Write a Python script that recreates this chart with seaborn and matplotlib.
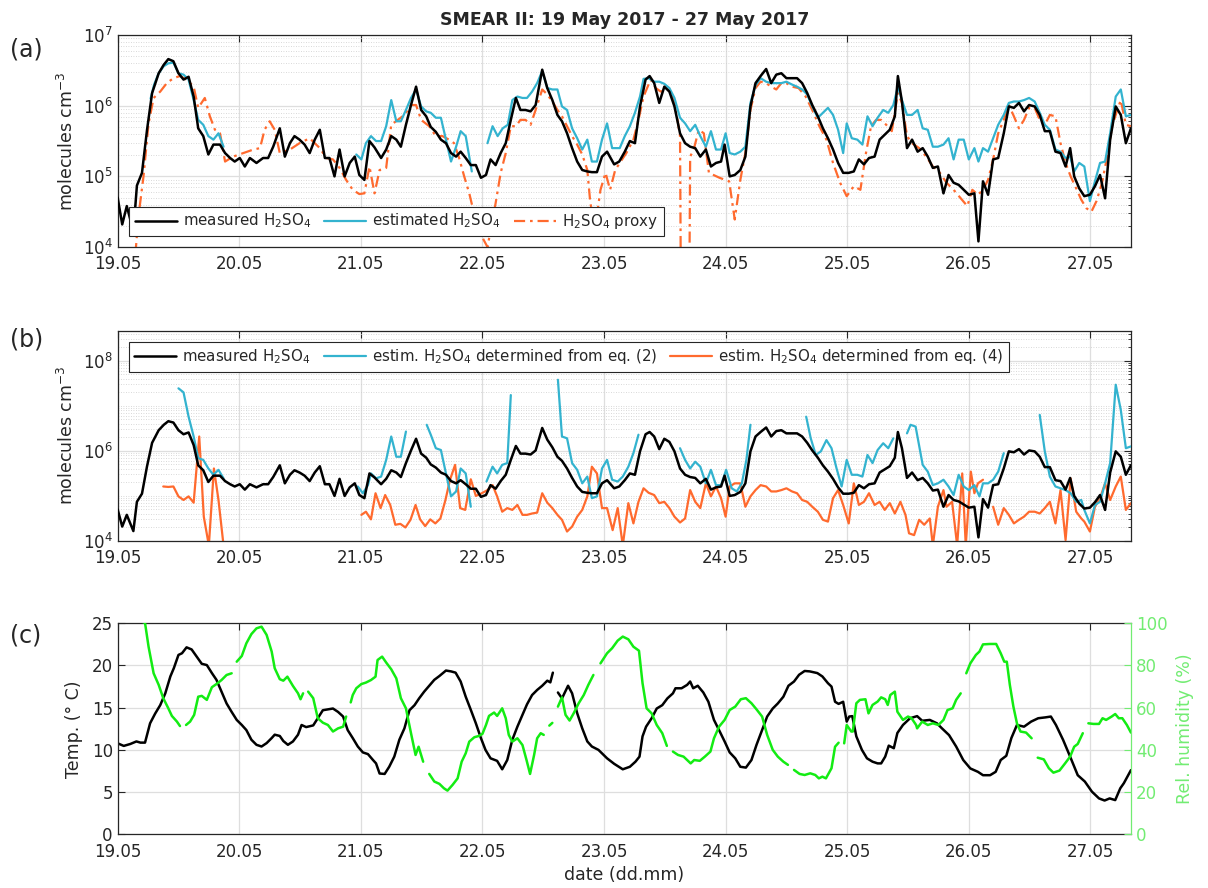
import numpy as np
import pandas as pd
import matplotlib
matplotlib.use("Agg")
import matplotlib.pyplot as plt
import seaborn as sns
from matplotlib.ticker import LogLocator, FixedLocator, NullFormatter, FuncFormatter, MultipleLocator
from matplotlib.lines import Line2D

# ---------------- data (hour since 19.05 00:00, value) ; None = gap ----------------
date_labels = ["19.05", "20.05", "21.05", "22.05", "23.05", "24.05", "25.05", "26.05", "27.05"]
title_text = "SMEAR II: 19 May 2017 - 27 May 2017"

# log10 of concentration (molecules cm^-3)
measured_log10 = [
    (0, 4.7), (0.9, 4.32), (1.8, 4.58), (3.1, 4.22), (3.8, 4.87), (4.8, 5.05), (5.8, 5.66), (6.8, 6.18),
    (8.1, 6.46), (9.1, 6.58), (10, 6.66), (11, 6.63), (12, 6.46), (13, 6.37), (14, 6.41), (15, 6.13),
    (15.9, 5.68), (16.9, 5.57), (17.9, 5.31), (18.9, 5.45), (20.2, 5.45), (21.2, 5.33), (22.2, 5.26),
    (23.1, 5.21), (24.1, 5.26), (25.1, 5.14), (26.1, 5.26), (27.4, 5.19), (28.7, 5.26), (29.7, 5.26),
    (30.7, 5.42), (32, 5.68), (33, 5.28), (34, 5.47), (34.9, 5.57), (35.9, 5.52), (36.9, 5.45),
    (37.9, 5.33), (38.9, 5.52), (39.9, 5.66), (40.9, 5.26), (41.8, 5.26), (42.8, 5.0), (43.8, 5.38),
    (44.8, 5.0), (45.8, 5.19), (46.8, 5.28), (47.7, 5.02), (48.7, 4.95), (49.7, 5.5), (50.7, 5.41),
    (52, 5.26), (53, 5.38), (54, 5.57), (55, 5.52), (55.9, 5.42), (56.9, 5.73), (57.9, 6.01),
    (58.9, 6.27), (59.9, 5.94), (60.9, 5.85), (61.8, 5.7), (62.8, 5.63), (63.8, 5.52), (64.8, 5.47),
    (65.8, 5.33), (66.8, 5.28), (67.7, 5.35), (68.7, 5.26), (69.7, 5.16), (70.7, 5.16), (71.7, 4.98),
    (72.7, 5.02), (73.6, 5.24), (74.6, 5.16), (75.6, 5.33), (76.6, 5.47), (77.6, 5.8), (78.6, 6.11),
    (79.5, 5.94), (80.5, 5.94), (81.5, 5.92), (82.5, 6.01), (83.8, 6.51), (84.8, 6.25), (85.8, 6.08),
    (86.8, 5.87), (87.7, 5.78), (88.7, 5.61), (89.7, 5.4), (90.7, 5.21), (91.7, 5.09), (92.7, 5.07),
    (93.6, 5.06), (94.6, 5.06), (95.6, 5.28), (96.6, 5.35), (98, 5.17), (99, 5.21), (100.1, 5.35),
    (101.1, 5.5), (102.1, 5.47), (103.1, 5.99), (104.2, 6.37), (105, 6.42), (105.9, 6.32), (106.9, 6.04),
    (107.9, 6.27), (108.9, 6.2), (109.9, 5.99), (111, 5.61), (112, 5.47), (113, 5.42), (114, 5.4),
    (115, 5.28), (116.1, 5.38), (117.1, 5.14), (118.1, 5.19), (119.1, 5.21), (119.8, 5.45), (120.8, 5.0),
    (121.8, 5.02), (122.9, 5.09), (123.9, 5.28), (124.9, 5.99), (125.9, 6.32), (126.9, 6.42), (128, 6.52),
    (129, 6.32), (130, 6.44), (131, 6.46), (132, 6.39), (133.1, 6.39), (134.1, 6.39), (135.1, 6.32),
    (136.1, 6.18), (137.1, 6.01), (138.2, 5.85), (139.2, 5.68), (140.2, 5.54), (141.2, 5.38), (142.2, 5.19),
    (143.2, 5.05), (144.3, 5.05), (145.3, 5.07), (146.3, 5.24), (147.3, 5.17), (148.3, 5.26), (149.4, 5.28),
    (150.4, 5.52), (151.4, 5.59), (152.4, 5.66), (153.4, 5.85), (154, 6.42), (154.8, 6.06), (155.8, 5.4),
    (156.8, 5.52), (157.9, 5.35), (158.9, 5.4), (159.9, 5.28), (160.9, 5.12), (161.9, 5.14), (163, 4.76),
    (164, 5.02), (165, 4.91), (166, 4.88), (167, 4.81), (168, 4.74), (169.1, 4.76), (169.9, 4.08),
    (170.8, 4.93), (171.8, 4.74), (172.8, 5.24), (173.8, 5.26), (174.9, 5.61), (175.9, 5.99), (176.9, 5.97),
    (177.9, 6.04), (178.9, 5.92), (179.9, 6.01), (181, 5.99), (182, 5.87), (183, 5.64), (184, 5.64),
    (185.1, 5.35), (186.1, 5.33), (187.1, 5.14), (188, 5.4), (188.8, 5.0), (189.8, 4.83), (190.8, 4.72),
    (191.9, 4.74), (192.9, 4.86), (193.9, 5.02), (194.9, 4.69), (195.9, 5.52), (197, 5.99), (198, 5.87),
    (199, 5.47), (200, 5.68),
]

estimated_log10 = [
    (6.5, 6.1), (7.2, 6.3), (8.1, 6.46), (9.1, 6.56), (10, 6.6), (11, 6.61), (12, 6.46), (13, 6.44),
    (14, 6.37), (15, 6.08), (15.9, 5.8), (16.9, 5.73), (17.9, 5.57), (18.9, 5.52), (19.9, 5.61),
    (20.9, 5.42), None,
    (47.1, 5.31), (48.1, 5.24), (49, 5.47), (50, 5.57), (51, 5.5), (52, 5.5), (53, 5.71), (54, 6.08),
    (55, 5.78), (55.9, 5.78), (56.9, 5.94), (57.9, 6.11), (58.9, 6.23), (59.9, 5.99), (60.9, 5.92),
    (61.8, 5.9), (62.8, 5.83), (63.8, 5.83), (64.8, 5.52), (65.8, 5.21), (66.8, 5.42), (67.7, 5.64),
    (68.7, 5.57), (69.9, 5.07), None,
    (73, 5.47), (74, 5.71), (75, 5.57), (76, 5.68), (77, 5.73), (77.9, 6.08), (78.9, 6.13), (79.9, 6.11),
    (80.8, 6.11), (81.8, 6.2), (82.8, 6.32), (83.8, 6.49), (84.8, 6.25), (85.8, 6.23), (86.8, 6.23),
    (87.7, 5.99), (88.7, 5.94), (89.7, 5.68), (90.7, 5.54), (91.7, 5.38), (92.7, 5.52), (93.6, 5.21),
    (94.6, 5.21), (95.6, 5.52), (96.6, 5.75), (97.6, 5.4), (99.1, 5.4), (100.1, 5.57), (101.1, 5.71),
    (102.1, 5.9), (103.1, 6.13), (103.8, 6.38), (104.8, 6.39), (105.9, 6.34), (106.9, 6.34), (107.9, 6.31),
    (108.9, 6.25), (109.9, 6.11), (111, 5.83), (112, 5.75), (113, 5.64), (114, 5.73), (115, 5.57),
    (116.1, 5.42), (117.1, 5.64), (118.1, 5.38), (119.1, 5.38), (120, 5.61), (120.8, 5.33), (121.8, 5.31),
    (122.9, 5.35), (123.9, 5.42), (124.9, 6.04), (125.9, 6.29), (126.9, 6.39), (128, 6.34), (129, 6.32),
    (130, 6.32), (131, 6.32), (132, 6.34), (133.1, 6.3), (134.1, 6.27), (135.1, 6.23), (136.1, 6.16),
    (137.1, 5.99), (138.2, 5.83), (139.2, 5.9), (140.2, 5.97), (141.2, 5.87), (142.2, 5.66), (143.2, 5.33),
    (143.9, 5.75), (144.9, 5.54), (146, 5.52), (147, 5.45), (148, 5.85), (149, 5.71), (150, 5.83),
    (151.1, 5.94), (152.1, 5.9), (153.1, 6.01), (154, 6.27), (154.8, 6.08), (155.8, 5.87), (156.8, 5.87),
    (157.9, 5.94), (158.9, 5.68), (159.9, 5.66), (160.9, 5.42), (161.9, 5.42), (163, 5.45), (164, 5.54),
    (165, 5.24), (166, 5.52), (167, 5.52), (168, 5.24), (169.1, 5.4), (169.9, 5.21), (170.8, 5.4),
    (171.8, 5.35), (172.8, 5.54), (173.8, 5.73), (174.9, 5.87), (175.9, 6.04), (176.9, 6.06), (177.9, 6.06),
    (178.9, 6.08), (179.9, 6.11), (181, 6.06), (182, 5.9), (183, 5.73), (184, 5.66), (185.1, 5.38),
    (186.1, 5.35), (187.1, 5.26), (188, 5.28), (188.8, 5.07), (189.8, 5.19), (190.8, 5.14), (191.9, 4.65),
    (192.9, 4.93), (193.9, 5.19), (194.9, 5.21), (195.9, 5.61), (197, 6.13), (198, 6.23), (199, 5.85),
    (200, 5.87),
]

proxy_log10 = [
    (3.5, 3.9), (4.1, 4.43), (5.1, 5.0), (6.1, 5.75), (7.1, 6.11), (8.4, 6.2), (9.7, 6.32), (11, 6.39),
    (12.3, 6.42), (13.6, 6.37), (15, 6.27), (15.9, 5.97), (17.2, 6.11), (18.2, 5.85), (19.2, 5.66),
    (20.2, 5.61), (21.2, 5.21), (22.8, 5.28), (24.8, 5.33), (26.8, 5.38), (28.1, 5.4), (29, 5.66),
    (30, 5.78), (31, 5.66), (32, 5.33), (34, 5.38), (35.9, 5.47), (37.9, 5.54), (39.9, 5.4), (41.2, 5.26),
    (42.5, 5.24), (43.8, 5.12), (45.1, 4.95), (46.4, 4.81), (47.7, 4.75), (48.7, 4.76), (49.7, 5.14),
    (50.7, 4.76), (51.7, 5.09), (53, 5.12), (54, 5.73), (55.3, 5.8), (56.6, 5.87), (57.9, 6.01),
    (58.9, 6.01), (59.9, 5.8), (61.5, 5.71), (62.8, 5.57), (64.1, 5.57), (65.4, 5.52), (66.4, 5.47),
    (67.4, 5.26), (68.4, 5.0), (69.4, 4.76), (70, 4.58), (71.5, 4.2), (73, 4.0), (74.6, 4.62),
    (75.6, 5.05), (76.6, 5.33), (77.6, 5.71), (78.6, 5.71), (79.5, 5.8), (80.5, 5.8), (81.5, 5.73),
    (82.5, 5.94), (83.8, 6.23), (84.8, 6.16), (85.8, 6.06), (86.8, 5.94), (87.7, 5.85), (88.7, 5.71),
    (89.7, 5.57), (90.7, 5.45), (91.7, 5.31), (92.7, 5.09), (93.3, 4.62), (94.3, 4.3), (95.3, 4.81),
    (96.3, 5.05), (97.2, 4.81), (98.2, 5.09), (99.1, 5.19), (100.4, 5.33), (101.8, 5.52), (102.8, 5.8),
    (103.8, 6.13), (105.2, 6.37), (106.2, 6.25), (107.2, 6.2), (108.6, 6.23), (109.6, 6.13), (110.5, 5.8),
    (111, 5.57), (111.2, 3.0), (112.8, 3.0), (113, 5.28), (113.7, 5.38), (114.7, 5.66), (115.7, 5.61),
    (116.7, 5.05), (118.8, 4.98), (120.7, 4.93), (121.8, 4.39), (122.9, 4.95), (123.9, 5.33), (124.9, 5.94),
    (125.9, 6.25), (126.9, 6.34), (128, 6.32), (129, 6.27), (130, 6.23), (131, 6.32), (132, 6.32),
    (133.1, 6.27), (134.4, 6.25), (135.8, 6.13), (137.1, 5.94), (138.5, 5.71), (139.9, 5.52), (141.2, 5.19),
    (142.6, 4.91), (143.9, 4.72), (145.3, 4.86), (146.6, 4.81), (147.7, 5.33), (148.7, 5.71), (149.7, 5.8),
    (150.7, 5.8), (151.7, 5.73), (152.8, 5.64), (154, 6.18), (154.8, 6.04), (155.8, 5.57), (156.8, 5.47),
    (158.2, 5.4), (159.6, 5.28), (160.9, 5.14), (162.3, 5.05), (163.6, 4.91), (165, 4.81), (166.4, 4.69),
    (167.7, 4.58), (168.7, 4.81), (169.8, 4.74), (170.8, 4.81), (171.8, 4.95), (172.8, 5.24), (173.8, 5.61),
    (174.9, 5.8), (175.9, 6.01), (176.9, 5.85), (177.9, 5.68), (178.9, 5.8), (179.9, 5.97), (181, 5.97),
    (182, 5.8), (183, 5.73), (184, 5.87), (185.1, 5.85), (186.1, 5.47), (187.1, 5.19), (188.1, 5.0),
    (189.2, 4.83), (190.2, 4.67), (191.2, 4.55), (192.2, 4.5), (193.2, 4.65), (194.3, 4.91), (195.3, 5.28),
    (196.3, 5.71), (197.3, 5.94), (198, 6.08), (199, 5.73), (200, 5.71),
]

eq2_log10 = [
    (12, 7.39), (13, 7.3), (14, 6.76), (15, 6.32), (15.9, 5.84), (16.9, 5.8), (17.9, 5.61), (18.9, 5.47),
    (19.9, 5.58), (20.9, 5.39), None,
    (47.4, 5.21), (48.4, 5.06), (49.4, 5.24), (50, 5.5), (51, 5.39), (52, 5.43), (53, 5.8), (54, 6.32),
    (55, 5.87), (55.9, 5.87), (56.9, 6.43), None,
    (61, 6.58), (61.8, 6.36), (62.8, 6.06), (63.8, 6.02), (64.8, 5.5), (65.8, 4.99), (66.8, 5.1),
    (67.7, 5.61), (68.7, 5.5), (69.7, 4.76), None,
    (72.8, 5.32), (74, 5.65), (74.9, 5.5), (75.9, 5.69), (76.9, 5.73), (77.6, 7.24), None,
    (86.9, 7.58), (87.7, 6.32), (88.7, 6.28), (89.7, 5.73), (90.7, 5.58), (91.7, 5.28), (92.7, 5.43),
    (93.6, 4.95), (94.6, 4.99), (95.6, 5.61), (96.6, 5.8), (97.6, 5.36), (98.7, 5.32), (99.7, 5.43),
    (100.8, 5.65), (101.8, 5.95), (102.8, 6.36), None,
    (111, 6.06), (112, 5.8), (113, 5.61), (114, 5.76), (115, 5.65), (116.1, 5.28), (117.1, 5.58),
    (118.1, 5.24), (119.1, 5.24), (120.1, 5.58), (121.2, 5.17), (122.2, 5.1), (123.2, 5.28), (124.1, 5.8),
    (124.9, 6.58), None,
    (135.9, 6.76), (136.8, 6.28), (137.8, 5.91), (138.8, 5.99), (139.9, 6.24), (140.9, 6.06), (141.9, 5.61),
    (142.9, 5.21), (143.9, 5.8), (144.9, 5.47), (146, 5.47), (147, 5.43), (148, 5.91), (149, 5.73),
    (150, 6.02), (151.1, 6.17), (152.1, 6.06), (153.1, 6.28), None,
    (155.8, 6.39), (156.5, 6.58), (157.5, 6.54), (158.9, 5.69), (159.9, 5.54), (160.9, 5.24), (161.9, 5.28),
    (163, 5.36), (164, 5.21), (165, 5.02), (166, 5.47), (167, 5.21), (168, 5.13), (169.1, 5.24),
    (170.1, 4.99), (170.8, 5.28), (171.8, 5.28), (172.8, 5.36), (173.8, 5.54), (174.9, 5.95), None,
    (182, 6.8), (183, 5.99), (184, 5.43), (185.1, 5.21), (186.1, 5.17), (187.1, 5.13), (188.1, 5.06),
    (189.2, 4.87), (190.2, 4.91), (190.8, 4.69), (191.9, 4.39), (192.9, 4.8), (193.9, 4.87), (194.9, 5.28),
    (195.9, 5.73), (197, 7.47), (198, 6.91), (199, 6.06), (200, 6.1),
]

eq4_log10 = [
    (9, 5.21), (10, 5.2), (11, 5.21), (12, 4.99), (13, 4.91), (14, 4.99), (15, 4.85), (16.1, 6.32),
    (17, 4.54), (18, 3.9), (19, 5.61), (19.9, 4.91), (20.9, 3.9), None,
    (48.1, 4.58), (49, 4.65), (50, 4.48), (50.9, 5.06), (51.9, 4.73), (52.8, 5.02), (53.8, 4.8),
    (54.8, 4.36), (55.8, 4.38), (56.8, 4.3), (57.8, 4.47), (58.8, 4.8), (59.7, 4.48), (60.7, 4.33),
    (61.7, 4.48), (62.7, 4.39), (63.7, 4.5), (64.7, 4.91), (65.6, 5.36), (66.6, 5.69), (67.6, 4.73),
    (68.6, 4.69), (69.7, 5.37), (70.7, 5.0), (71.7, 5.05), (73, 5.13), (74, 5.24), (74.9, 4.99),
    (75.9, 4.65), (76.9, 4.73), (77.9, 4.69), (78.9, 4.8), (79.9, 4.58), (80.8, 4.58), (81.8, 4.61),
    (82.8, 4.63), (83.8, 5.06), (84.8, 4.85), (85.8, 4.73), (86.8, 4.58), (87.7, 4.47), (88.7, 4.21),
    (89.7, 4.32), (90.7, 4.54), (91.7, 4.69), (92.7, 4.99), (93.6, 5.65), (94.6, 5.5), (95.6, 4.73),
    (96.6, 4.73), (97.7, 4.24), (98.7, 4.73), (99.7, 3.9), (100.8, 4.84), (101.8, 4.39), (102.8, 4.87),
    (103.8, 5.17), (104.8, 5.07), (105.9, 5.02), (106.9, 4.84), (107.9, 4.87), (108.9, 4.73), (109.9, 4.54),
    (111, 4.41), (112, 4.5), (113, 5.13), (114, 4.87), (115, 4.73), (116.1, 5.28), (117.1, 4.99),
    (118.1, 5.21), (119.1, 4.95), (120, 4.54), (120.8, 5.21), (121.8, 5.28), (122.9, 5.28), (123.9, 4.76),
    (124.9, 4.99), (125.9, 5.13), (126.9, 5.24), (128, 5.21), (129, 5.1), (130, 5.1), (131, 5.13),
    (132, 5.17), (133.1, 5.1), (134.1, 5.06), (135.1, 4.91), (136.1, 4.87), (137.1, 4.76), (138.2, 4.65),
    (139.2, 4.47), (140.2, 4.43), (141.2, 4.95), (142.2, 5.13), (143.2, 4.8), (144.3, 4.39), (145.3, 5.28),
    (146.3, 4.8), (147.3, 4.87), (148.3, 5.06), (149.4, 4.8), (150.4, 4.87), (151.4, 4.69), (152.4, 4.84),
    (153.4, 4.61), (154.5, 4.87), (155.5, 4.58), (156.2, 4.17), (157.2, 4.13), (158.2, 4.47), (159.2, 4.36),
    (160.3, 4.5), (160.9, 3.9), (161.9, 4.76), (163, 5.13), (163.6, 4.76), (164.7, 4.87), (165.7, 3.9),
    (166.7, 5.5), (167.4, 3.9), (168.4, 5.54), (169.1, 5.06), (169.8, 5.28), (170.8, 5.36), None,
    (172.8, 4.76), (173.8, 4.36), (174.9, 4.73), (175.9, 4.58), (176.9, 4.39), (177.9, 4.47), (178.9, 4.54),
    (179.9, 4.65), (181, 4.65), (182, 4.61), (183, 4.73), (184, 4.87), (185.1, 4.39), (186.1, 5.13),
    (187.1, 4.02), (188.1, 5.39), (189.2, 4.65), (190.2, 4.5), (190.8, 4.43), (191.9, 4.21), (192.9, 4.76),
    (193.9, 4.95), (194.9, 5.28), (195.9, 4.91), (197, 5.21), (198, 5.43), (199, 4.69), (200, 4.84),
]

temperature_C = [
    (0, 10.78), (1.2, 10.47), (2.5, 10.7), (3.7, 11.0), (4.5, 10.86), (5.4, 10.86), (6.4, 13.15),
    (7.4, 14.3), (8.4, 15.3), (9.4, 16.7), (10.4, 18.7), (11.1, 19.7), (12, 21.25), (12.7, 21.45),
    (13.6, 22.15), (14.6, 21.9), (15.6, 21.05), (16.6, 20.2), (17.6, 20.05), (18.6, 19.1), (19.5, 18.3),
    (20.5, 16.9), (21.5, 15.5), (22.5, 14.5), (23.5, 13.55), (24.5, 12.95), (25.4, 12.35), (26.4, 11.2),
    (27.4, 10.6), (28.4, 10.4), (29.4, 10.8), (30.4, 11.4), (31, 11.8), (32, 11.65), (32.7, 11.05),
    (33.6, 10.6), (34.6, 11.0), (35.6, 11.8), (36.3, 12.95), (37.2, 12.7), (38.6, 12.9), (39.5, 13.75),
    (40.5, 14.7), (41.5, 14.8), (42.5, 14.9), (43.5, 14.5), (44.5, 13.95), (45.4, 12.35), (46.4, 11.4),
    (47.4, 10.4), (48.4, 9.7), (49.4, 9.5), (50.4, 8.8), (51, 8.4), (51.7, 7.2), (52.7, 7.15), (53.6, 8.0),
    (54.6, 9.2), (55.6, 11.2), (56.6, 12.55), (57.6, 14.7), (58.6, 15.3), (59.5, 16.1), (60.5, 16.9),
    (61.5, 17.6), (62.5, 18.3), (63.5, 18.75), (64.8, 19.4), (65.8, 19.3), (66.7, 19.15), (67.7, 18.1),
    (68.7, 16.3), (69.7, 14.75), (70.7, 13.15), (71.7, 11.4), (72.6, 10.0), (73.6, 9.0), (74.9, 8.7),
    (75.9, 7.7), (76.9, 8.8), (77.9, 11.2), (78.9, 12.75), (79.9, 14.15), (80.8, 15.4), (81.8, 16.5),
    (82.8, 17.1), (83.8, 17.6), (84.8, 18.2), (85.4, 18.0), (85.9, 19.15), None,
    (86.9, 16.8), (87.7, 16.1), (88.9, 17.6), (89.7, 16.7), (90.7, 14.35), (91.7, 12.55), (92.7, 11.0),
    (93.6, 10.4), (94.9, 10.0), (96.6, 9.0), (98, 8.35), (99.7, 7.7), (101.1, 8.0), (102.2, 8.6),
    (103, 9.2), (103.6, 11.6), (104.3, 12.75), (105.4, 13.75), (106.4, 14.9), (107.5, 15.3), (108.5, 16.1),
    (109.6, 16.7), (110.1, 17.3), (111.3, 17.3), (112.4, 17.7), (113, 18.1), (113.6, 17.3), (114.5, 17.6),
    (115.6, 16.8), (116.6, 15.7), (117.7, 13.55), (118.7, 12.35), (119.8, 11.0), (120.8, 9.7), (121.9, 9.0),
    (122.9, 8.0), (124, 7.9), (125.1, 8.8), (126.1, 10.6), (127.2, 12.35), (128.2, 13.95), (129.3, 14.9),
    (130.3, 15.5), (131.4, 16.3), (132.4, 17.6), (133.5, 18.1), (134.5, 18.9), (135.6, 19.35), (136.6, 19.3),
    (138.1, 19.1), (139.1, 18.7), (140.2, 17.9), (140.9, 17.5), (141.6, 15.7), (142.3, 15.45), (143.2, 15.7),
    (143.9, 13.35), (144.4, 13.95), (145, 14.0), (145.8, 11.6), (146.9, 10.0), (147.9, 9.0), (149, 8.6),
    (150, 8.4), (150.7, 8.4), (151.5, 9.2), (152.2, 10.5), (153.2, 10.2), (153.9, 12.0), (155, 12.95),
    (156.4, 13.75), (157.8, 14.0), (158.8, 13.45), (160.3, 13.55), (161.7, 13.15), (162.7, 12.55),
    (164.1, 11.75), (165.5, 10.4), (166.9, 8.8), (168.3, 7.8), (169.8, 7.4), (170.8, 7.0), (172.2, 7.0),
    (173.3, 7.4), (174.3, 8.8), (175.4, 9.3), (176.4, 11.4), (177.5, 12.95), (178.9, 12.75), (180.3, 13.35),
    (181.7, 13.75), (183.1, 13.85), (184.2, 13.95), (185.2, 12.95), (186.6, 11.2), (188, 9.2), (189.5, 7.0),
    (190.9, 6.25), (192.3, 5.05), (193.7, 4.25), (194.8, 4.0), (195.8, 4.25), (196.9, 4.05), (197.9, 5.45),
    (198.6, 6.05), (200, 7.6),
]

rel_humidity_pct = [
    (3.5, 102), (5.4, 100.2), (6.1, 88.9), (7.1, 76.3), (8.1, 70.8), (9, 64.5), (10, 59.7), (10.7, 56.1),
    (11.7, 53.4), (12.3, 51.3), None,
    (13.5, 51.8), (14.3, 53.4), (15.1, 56.6), (15.9, 65.2), (16.6, 65.6), (17.6, 63.7), (18.6, 69.7),
    (19.5, 71.2), (20.5, 73.1), (21.5, 75.5), (22.5, 76.3), None,
    (23.5, 81.8), (24.5, 84.5), (25.4, 90.5), (26.4, 94.9), (27.4, 97.6), (28.4, 98.4), (29.4, 94.5),
    (30.4, 86.6), (31, 78.7), (32, 73.5), (32.7, 72.8), (33.5, 74.7), (34.6, 70.3), (35.6, 66.8),
    (36.1, 64.0), (36.6, 66.8), None,
    (37.6, 67.6), (38.6, 64.5), (39.5, 55.0), (40.5, 52.9), (41.5, 51.8), (42.5, 48.7), (43.5, 50.2),
    (44.5, 51.0), (45.1, 55.8), None,
    (46.0, 62.5), (46.4, 66.0), (47.1, 69.2), (48.1, 71.2), (49, 71.9), (50, 73.1), (50.9, 74.7),
    (51.3, 82.6), (52.2, 84.2), (53, 81.4), (54, 78.2), (55, 73.9), (55.9, 64.5), (56.9, 59.7),
    (57.9, 47.9), (58.8, 37.6), (59.4, 41.5), (60.3, 34.4), None,
    (61.5, 28.6), (62.5, 25.0), (63.5, 23.9), (64.4, 21.8), (65.1, 20.7), (66.1, 23.4), (67.1, 26.5),
    (67.9, 34.4), (68.7, 38.4), (69.4, 43.9), (70.4, 46.0), (71.3, 46.6), (72, 47.6), (72.7, 51.8),
    (73.3, 56.1), (74.3, 57.7), (74.9, 56.1), (75.9, 59.7), (76.6, 55.0), (77.2, 47.1), (77.9, 43.9),
    (78.9, 45.5), (79.9, 42.3), (80.7, 35.2), (81.4, 28.6), (82.2, 37.6), (82.8, 45.5), (83.5, 47.9),
    (84.1, 47.1), None,
    (85.2, 51.5), (85.8, 52.8), None,
    (86.9, 60.5), (87.7, 64.9), (88.4, 56.6), (89.2, 53.9), (90, 57.3), (91, 62.1), (92, 66.0),
    (92.9, 70.8), (93.9, 75.5), None,
    (95.3, 81.0), (96.6, 85.8), (97.6, 88.2), (98.7, 91.8), (99.7, 93.7), (100.8, 92.4), (101.8, 88.9),
    (102.9, 87.0), (103.6, 71.6), (104.4, 59.7), (105.4, 57.3), (106.4, 51.8), (107.5, 47.9),
    (108.4, 41.9), None,
    (109.6, 39.2), (110.6, 37.6), (111.7, 36.8), (113.1, 33.6), (113.8, 35.2), (114.9, 34.8), (115.9, 36.8),
    (117, 39.2), (117.7, 45.5), (118.7, 51.0), (119.8, 54.2), (120.8, 58.9), (121.9, 60.5), (123, 64.0),
    (124, 64.5), (125.1, 62.1), (126.1, 59.2), (127.2, 55.8), (128.2, 47.1), (129.3, 40.0), (130.3, 36.8),
    (131.4, 34.4), (132.3, 32.9), None,
    (133.5, 30.5), (134.6, 28.6), (135.6, 28.1), (136.7, 28.9), (137.7, 28.1), (138.4, 26.5), (139.1, 27.3),
    (139.8, 26.5), (140.9, 31.3), (141.6, 41.5), (142.3, 43.4), None,
    (143.4, 43.1), (143.9, 51.8), (144.8, 48.7), (145.1, 48.7), (145.8, 62.1), (146.5, 63.7), (147.6, 64.0),
    (148.2, 57.3), (149, 61.3), (150, 62.9), (150.7, 64.9), (151.5, 64.0), (152, 61.3), (152.5, 66.0),
    (153.4, 67.6), (153.9, 58.1), (155, 54.2), (156, 55.8), (156.7, 55.0), (157.6, 51.8), (157.8, 50.2),
    (158.8, 53.4), (159.9, 51.8), (160.9, 52.6), (162, 51.8), (163, 54.2), (163.8, 58.9), (164.8, 59.7),
    (165.5, 63.7), (166.4, 66.8), None,
    (167.5, 76.3), (168.3, 81.0), (169.4, 85.0), (170.1, 86.6), (170.8, 90.0), (172.2, 90.2), (173.4, 90.2),
    (174.3, 85.8), (175, 81.8), (175.5, 81.8), (176.1, 70.8), (176.8, 60.5), (177.5, 52.6), (178.2, 48.7),
    (179.3, 48.2), (180.4, 45.5), None,
    (181.6, 36.3), (182.8, 35.5), (183.8, 31.3), (184.7, 29.2), (185.9, 30.2), (187, 33.6), (188, 36.8),
    (188.8, 41.5), (189.5, 42.8), (190.5, 47.9), None,
    (191.6, 52.6), (192.6, 52.3), (193.7, 52.3), (194.4, 55.0), (195.1, 54.2), (196.2, 55.8), (196.9, 57.0),
    (197.6, 55.0), (198.3, 55.0), (199.2, 51.8), (200, 48.2),
]

# ---------------- helpers ----------------
def to_frame(pairs, log=False):
    rows, seg = [], 0
    for p in pairs:
        if p is None:
            seg += 1
            continue
        h, v = p
        rows.append((h / 24.0, 10.0 ** v if log else v, seg))
    return pd.DataFrame(rows, columns=["day", "val", "seg"])


sns.set_theme(style="white")
plt.rcParams["font.family"] = ["DejaVu Sans"]
plt.rcParams["mathtext.fontset"] = "dejavusans"
plt.rcParams["axes.edgecolor"] = "#262626"
plt.rcParams["axes.linewidth"] = 0.9

BLACK = "#000000"
CYAN = "#33b3cf"
ORANGE = "#ff6a2e"
GREEN_LINE = "#13ec13"
GREEN_AX = "#72ec72"
GRID = "#dedede"
MINOR_GRID = "#cdcdcd"
DASHDOT = (0, (5, 2.2, 1.2, 2.2))

fig = plt.figure(figsize=(12.08, 8.88), dpi=100)
L, W = 0.0974, 0.8388
ax_a = fig.add_axes([L, 0.7218, W, 0.2387])
ax_b = fig.add_axes([L, 0.3908, W, 0.2368])
ax_c = fig.add_axes([L, 0.0605, W, 0.2376])

x_end = 200 / 24.0
day_ticks = list(range(len(date_labels)))


def style_time_axis(ax):
    ax.set_xlim(0, x_end)
    ax.xaxis.set_major_locator(FixedLocator(day_ticks))
    ax.set_xticklabels(date_labels)
    ax.tick_params(axis="both", which="major", direction="in", length=5, width=0.8,
                   labelsize=12, top=True, colors="#262626")
    ax.tick_params(axis="x", labelcolor="#262626", pad=6)
    ax.set_xlabel("")


def line(ax, pairs, color, lw, log=False, ls="-", z=2):
    df = to_frame(pairs, log=log)
    sns.lineplot(data=df, x="day", y="val", units="seg", estimator=None, color=color,
                 linewidth=lw, linestyle=ls, ax=ax, legend=False, zorder=z)


def log_fmt(v, pos):
    return r"$10^{%d}$" % int(round(np.log10(v)))


def log_grid(ax):
    ax.grid(True, which="major", color=GRID, lw=0.9)
    ax.yaxis.grid(True, which="minor", color=MINOR_GRID, ls=(0, (1, 2)), lw=0.6)
    ax.xaxis.grid(False, which="minor")


# ---------------- panel (a) ----------------
ax_a.set_yscale("log")
line(ax_a, proxy_log10, ORANGE, 1.6, log=True, ls=DASHDOT, z=2)
line(ax_a, estimated_log10, CYAN, 1.6, log=True, z=3)
line(ax_a, measured_log10, BLACK, 1.8, log=True, z=4)
ax_a.set_ylim(1e4, 1e7)
ax_a.yaxis.set_major_locator(FixedLocator([1e4, 1e5, 1e6, 1e7]))
ax_a.yaxis.set_major_formatter(FuncFormatter(log_fmt))
ax_a.yaxis.set_minor_locator(LogLocator(base=10, subs=np.arange(2, 10), numticks=20))
ax_a.yaxis.set_minor_formatter(NullFormatter())
style_time_axis(ax_a)
ax_a.tick_params(axis="y", which="both", right=True, direction="in")
ax_a.tick_params(axis="y", which="minor", length=2.5, width=0.6)
log_grid(ax_a)
ax_a.set_ylabel("molecules cm$^{-3}$", fontsize=12.5, labelpad=4)
ax_a.set_title(title_text, fontsize=12.5, fontweight="bold", pad=7)
h_a = [Line2D([], [], color=BLACK, lw=1.8),
       Line2D([], [], color=CYAN, lw=1.6),
       Line2D([], [], color=ORANGE, lw=1.6, ls=DASHDOT)]
lab_a = ["measured H$_2$SO$_4$", "estimated H$_2$SO$_4$", "H$_2$SO$_4$ proxy"]
leg_a = ax_a.legend(h_a, lab_a, ncol=3, loc="lower left", bbox_to_anchor=(0.0116, 0.052),
                    borderaxespad=0, fontsize=10.8, frameon=True, fancybox=False, framealpha=1,
                    edgecolor="#262626", handlelength=2.8, handletextpad=0.4, columnspacing=0.9,
                    borderpad=0.35)
leg_a.get_frame().set_linewidth(0.8)
leg_a.set_zorder(10)

# ---------------- panel (b) ----------------
ax_b.set_yscale("log")
line(ax_b, eq4_log10, ORANGE, 1.6, log=True, z=2)
line(ax_b, eq2_log10, CYAN, 1.6, log=True, z=3)
line(ax_b, measured_log10, BLACK, 1.8, log=True, z=4)
ax_b.set_ylim(1e4, 10 ** 8.67)
ax_b.yaxis.set_major_locator(FixedLocator([1e4, 1e6, 1e8]))
ax_b.yaxis.set_major_formatter(FuncFormatter(log_fmt))
ax_b.yaxis.set_minor_locator(LogLocator(base=10, subs=np.arange(1, 10), numticks=30))
ax_b.yaxis.set_minor_formatter(NullFormatter())
style_time_axis(ax_b)
ax_b.tick_params(axis="y", which="both", right=True, direction="in")
ax_b.tick_params(axis="y", which="minor", length=2.5, width=0.6)
log_grid(ax_b)
ax_b.set_ylabel("molecules cm$^{-3}$", fontsize=12.5, labelpad=4)
h_b = [Line2D([], [], color=BLACK, lw=1.8),
       Line2D([], [], color=CYAN, lw=1.6),
       Line2D([], [], color=ORANGE, lw=1.6)]
lab_b = ["measured H$_2$SO$_4$", "estim. H$_2$SO$_4$ determined from eq. (2)",
         "estim. H$_2$SO$_4$ determined from eq. (4)"]
leg_b = ax_b.legend(h_b, lab_b, ncol=3, loc="upper left", bbox_to_anchor=(0.011, 0.946),
                    borderaxespad=0, fontsize=10.8, frameon=True, fancybox=False, framealpha=1,
                    edgecolor="#262626", handlelength=2.8, handletextpad=0.4, columnspacing=0.9,
                    borderpad=0.35)
leg_b.get_frame().set_linewidth(0.8)
leg_b.set_zorder(10)

# ---------------- panel (c) ----------------
line(ax_c, temperature_C, BLACK, 1.8)
ax_c.set_ylim(0, 25)
ax_c.yaxis.set_major_locator(MultipleLocator(5))
style_time_axis(ax_c)
ax_c.tick_params(axis="y", right=False)
ax_c.grid(True, which="major", color=GRID, lw=0.9)
ax_c.set_ylabel("Temp. (° C)", fontsize=12.5, labelpad=6)
ax_c.set_xlabel("date (dd.mm)", fontsize=12.5, labelpad=4)
ax_c.spines["right"].set_visible(False)

ax_r = ax_c.twinx()
line(ax_r, rel_humidity_pct, GREEN_LINE, 1.8)
ax_r.set_ylim(0, 100)
ax_r.yaxis.set_major_locator(MultipleLocator(20))
ax_r.set_xlim(0, x_end)
ax_r.tick_params(axis="y", direction="in", length=5, width=0.8, labelsize=12,
                 colors=GREEN_AX)
ax_r.set_ylabel("Rel. humidity (%)", fontsize=12.5, color=GREEN_AX, labelpad=6)
ax_r.set_xlabel("")
ax_r.grid(False)
for s in ["left", "top", "bottom"]:
    ax_r.spines[s].set_visible(False)
ax_r.spines["right"].set_color(GREEN_AX)

# ---------------- panel labels ----------------
fig.text(0.008, 1 - 49 / 888, "(a)", fontsize=17, va="center", ha="left")
fig.text(0.008, 1 - 340 / 888, "(b)", fontsize=17, va="center", ha="left")
fig.text(0.008, 1 - 635 / 888, "(c)", fontsize=17, va="center", ha="left")

fig.savefig("out.png", dpi=100)
